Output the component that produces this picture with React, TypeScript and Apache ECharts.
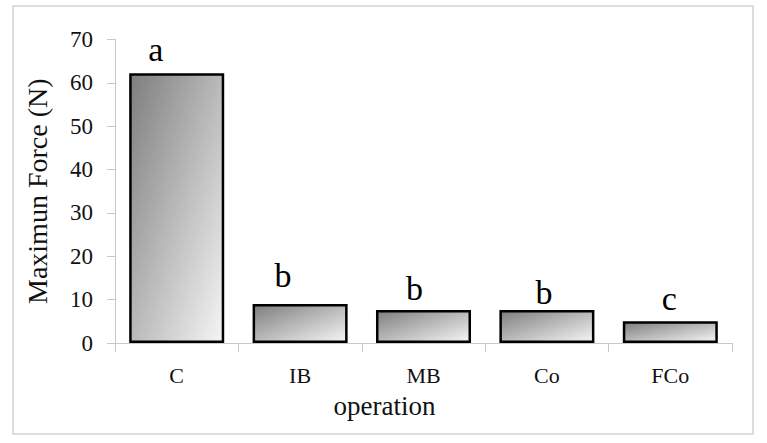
import React, { useEffect, useRef } from "react";
import * as echarts from "echarts";

const categories = ["C", "IB", "MB", "Co", "FCo"];
const forceValues = [62.2, 9.0, 7.6, 7.6, 5.0];
const letters = ["a", "b", "b", "b", "c"];
const letterDistance = [7, 11, 5, 1, 6];
const letterOffsetX = [-21, -17, -9, -3, -1];
const yTicks = { min: 0, max: 70, interval: 10 };

const FONT = "'Liberation Serif', 'Times New Roman', serif";

export default function App() {
  const ref = useRef<HTMLDivElement>(null);
  useEffect(() => {
    if (!ref.current) return;
    const chart = echarts.init(ref.current, undefined, { renderer: "svg" });
    const gradient = new echarts.graphic.LinearGradient(0, 0, 1, 1, [
      { offset: 0, color: "#7e7e7e" },
      { offset: 1, color: "#f5f5f5" },
    ]);
    chart.setOption({
      animation: false,
      backgroundColor: "#ffffff",
      graphic: [
        {
          type: "rect",
          shape: { x: 13, y: 6, width: 740, height: 428 },
          style: { fill: "none", stroke: "#d4d4d4", lineWidth: 1.5 },
          silent: true,
        },
      ],
      grid: { left: 115, right: 35, top: 39.5, bottom: 100 },
      xAxis: {
        type: "category",
        data: categories,
        name: "operation",
        nameLocation: "middle",
        nameGap: 49,
        nameTextStyle: {
          fontFamily: FONT,
          fontSize: 27,
          color: "#111",
          padding: [0, 78, 0, 0],
        },
        axisLine: { lineStyle: { color: "#c8c8c8", width: 1 } },
        axisTick: { show: true, length: 9, lineStyle: { color: "#c8c8c8" } },
        axisLabel: { fontFamily: FONT, fontSize: 22, color: "#111", margin: 21 },
        splitLine: { show: false },
      },
      yAxis: {
        type: "value",
        min: yTicks.min,
        max: yTicks.max,
        interval: yTicks.interval,
        name: "Maximun Force (N)",
        nameLocation: "middle",
        nameGap: 64,
        nameTextStyle: { fontFamily: FONT, fontSize: 28, color: "#111" },
        axisLine: { show: true, lineStyle: { color: "#c8c8c8", width: 1 } },
        axisTick: { show: true, length: 8, lineStyle: { color: "#c8c8c8" } },
        axisLabel: { fontFamily: FONT, fontSize: 23, color: "#111", margin: 22 },
        splitLine: { show: false },
      },
      series: [
        {
          type: "bar",
          barCategoryGap: "23%",
          data: forceValues.map((v, i) => ({
            value: v,
            label: {
              show: true,
              position: "top",
              distance: letterDistance[i],
              offset: [letterOffsetX[i], 0],
              formatter: letters[i],
              fontFamily: FONT,
              fontSize: 34,
              color: "#000",
            },
          })),
          itemStyle: {
            color: gradient,
            borderColor: "#000",
            borderWidth: 2.5,
          },
        },
      ],
    });
    return () => chart.dispose();
  }, []);
  return (
    <div
      ref={ref}
      style={{ position: "fixed", left: 0, top: 0, width: 767, height: 443 }}
    />
  );
}
